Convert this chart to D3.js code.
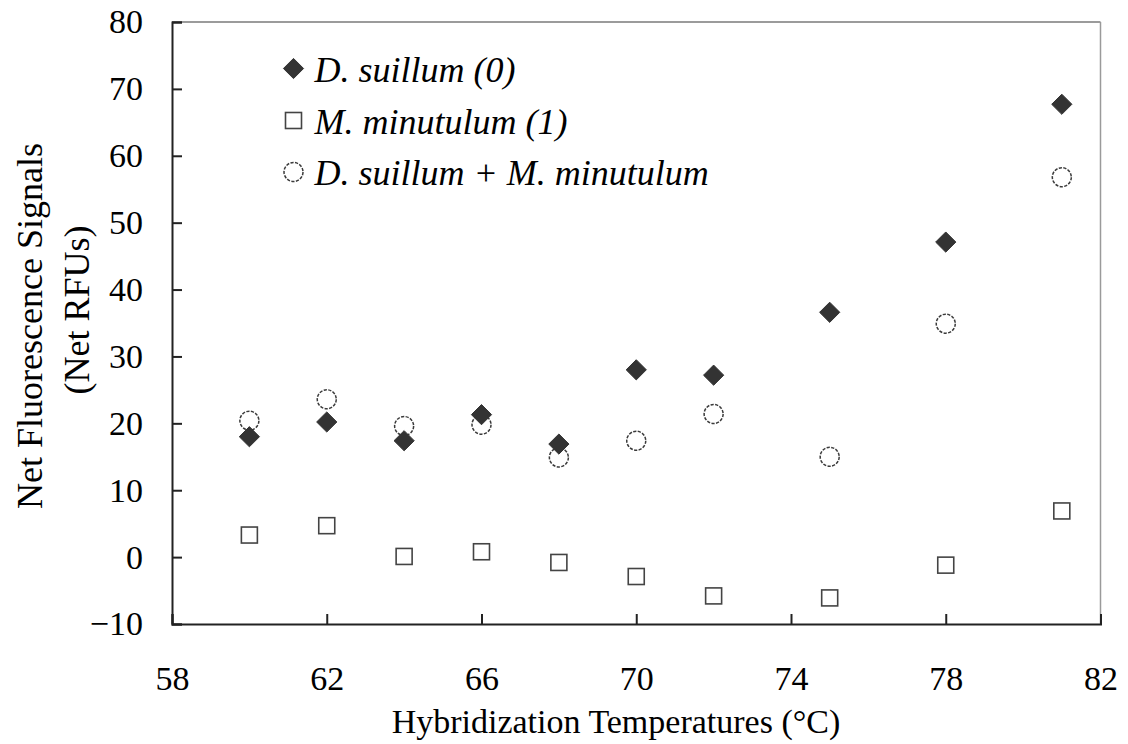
<!DOCTYPE html>
<html>
<head>
<meta charset="utf-8">
<script src="https://cdn.jsdelivr.net/npm/d3@7"></script>
<style>
  html, body { margin: 0; padding: 0; background: #fff; }
  svg { display: block; font-family: "Liberation Serif", "Times New Roman", serif; }
</style>
</head>
<body>
<svg id="chart" width="1128" height="744"></svg>
<script>
// Hybridization temperatures (°C)
const temperatures = [60, 62, 64, 66, 68, 70, 72, 75, 78, 81];

// Net fluorescence signals (net RFUs)
const dSuillum = [18.0, 20.2, 17.4, 21.3, 16.9, 28.0, 27.2, 36.6, 47.1, 67.7];
const mMinutulum = [3.3, 4.7, 0.1, 0.8, -0.8, -2.9, -5.8, -6.1, -1.2, 6.9];
const mixed = [20.4, 23.6, 19.6, 19.8, 14.9, 17.4, 21.4, 15.0, 34.9, 56.8];

const seriesNames = ["D. suillum (0)", "M. minutulum (1)", "D. suillum + M. minutulum"];
const xTicks = [58, 62, 66, 70, 74, 78, 82];
const yTicks = [-10, 0, 10, 20, 30, 40, 50, 60, 70, 80];

const svg = d3.select("#chart");
const plot = { left: 172, right: 1100.5, top: 22, bottom: 624 };
const tickFont = 34;

const x = d3.scaleLinear().domain([58, 82]).range([plot.left, plot.right]);
const y = d3.scaleLinear().domain([-10, 80]).range([plot.bottom, plot.top]);

// Frame: dark left/bottom axes, lighter top/right borders
svg.append("line").attr("x1", plot.left).attr("x2", plot.right).attr("y1", plot.top).attr("y2", plot.top)
  .attr("stroke", "#7a7a7a").attr("stroke-width", 1.5);
svg.append("line").attr("x1", plot.right).attr("x2", plot.right).attr("y1", plot.top).attr("y2", plot.bottom)
  .attr("stroke", "#9a9a9a").attr("stroke-width", 1.5);

// Y axis with inward ticks
const yAxis = d3.axisLeft(y).tickValues(yTicks).tickSize(-10).tickPadding(29).tickFormat(d3.format("d"));
const gy = svg.append("g").attr("transform", `translate(${plot.left},0)`).call(yAxis);
gy.select(".domain").attr("stroke", "#222").attr("stroke-width", 2);
gy.selectAll(".tick line").attr("stroke", "#222").attr("stroke-width", 2);
gy.selectAll(".tick text").attr("font-size", tickFont).attr("fill", "#000")
  .attr("font-family", "Liberation Serif, serif");

// X axis with inward ticks
const xAxis = d3.axisBottom(x).tickValues(xTicks).tickSize(-10).tickPadding(42).tickFormat(d3.format("d"));
const gx = svg.append("g").attr("transform", `translate(0,${plot.bottom})`).call(xAxis);
gx.select(".domain").attr("stroke", "#222").attr("stroke-width", 2);
gx.selectAll(".tick line").attr("stroke", "#222").attr("stroke-width", 2);
gx.selectAll(".tick text").attr("font-size", tickFont).attr("fill", "#000")
  .attr("font-family", "Liberation Serif, serif");

// Axis titles
svg.append("text").attr("x", 616).attr("y", 733).attr("text-anchor", "middle")
  .attr("font-size", 34).text("Hybridization Temperatures (°C)");
svg.append("text").attr("transform", "translate(42,326) rotate(-90)").attr("text-anchor", "middle")
  .attr("font-size", 36).text("Net Fluorescence Signals");
svg.append("text").attr("transform", "translate(89,310) rotate(-90)").attr("text-anchor", "middle")
  .attr("font-size", 36).text("(Net RFUs)");

// Marker shapes
const diamondPath = d3.symbol().type(d3.symbolDiamond2).size(260)();
function drawDiamond(g) {
  g.append("path").attr("d", diamondPath)
    .attr("fill", "#333").attr("stroke", "#333").attr("stroke-width", 1);
}
function drawSquare(g) {
  g.append("rect").attr("x", -8).attr("y", -8).attr("width", 16).attr("height", 16)
    .attr("fill", "#fff").attr("stroke", "#444").attr("stroke-width", 1.6);
}
function drawCircle(g) {
  g.append("circle").attr("r", 9.5).attr("fill", "#fff").attr("stroke", "#3a3a3a")
    .attr("stroke-width", 1.5).attr("stroke-dasharray", "3.2,1.4");
}
const painters = [drawDiamond, drawSquare, drawCircle];
const seriesData = [dSuillum, mMinutulum, mixed];

// Draw mixed circles first, then squares, then diamonds on top
[2, 1, 0].forEach(si => {
  const g = svg.append("g");
  g.selectAll("g").data(temperatures.map((t, i) => ({ t, v: seriesData[si][i] })))
    .join("g")
    .attr("transform", d => `translate(${x(d.t)},${y(d.v)})`)
    .each(function () { painters[si](d3.select(this)); });
});

// Legend
const legendRows = [68.5, 120.5, 172];
seriesNames.forEach((name, i) => {
  const g = svg.append("g").attr("transform", `translate(293.5,${legendRows[i]})`);
  painters[i](g);
  g.append("text").attr("x", 21).attr("y", 13).attr("font-size", 36)
    .attr("font-style", "italic").text(name);
});
</script>
</body>
</html>
